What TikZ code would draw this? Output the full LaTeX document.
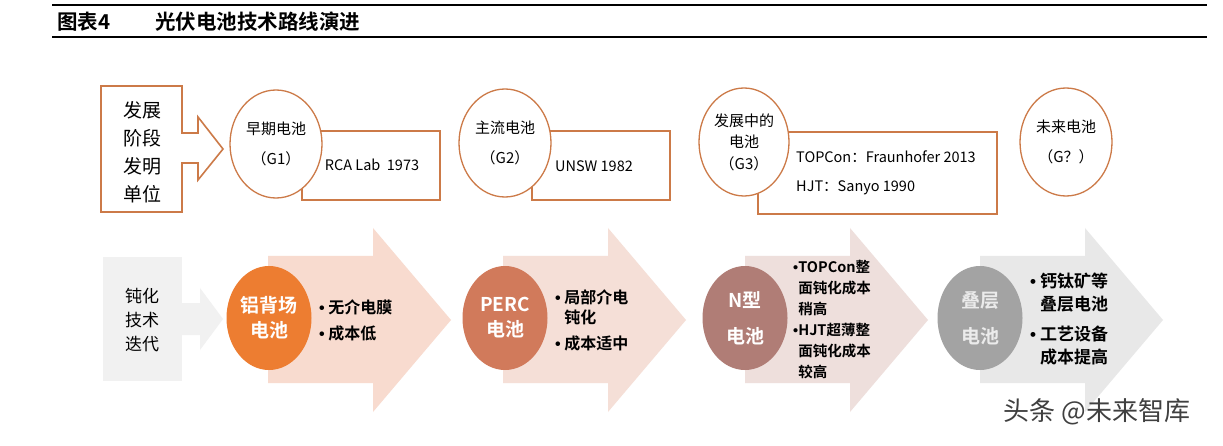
\documentclass[tikz,border=0pt]{standalone}
\usepackage{fontspec}
\setmainfont{Noto Sans CJK SC}[BoldFont={Noto Sans CJK SC Bold}]
\newfontfamily\bulletfont{Liberation Sans}
\usetikzlibrary{shapes.geometric}

\definecolor{lineorange}{RGB}{204,122,72}
\definecolor{passgray}{RGB}{241,241,241}
\definecolor{arrowone}{RGB}{248,219,207}
\definecolor{arrowtwo}{RGB}{245,223,215}
\definecolor{arrowthree}{RGB}{238,223,220}
\definecolor{arrowfour}{RGB}{232,232,232}
\definecolor{alorange}{RGB}{237,125,49}
\definecolor{percred}{RGB}{209,122,91}
\definecolor{nbrown}{RGB}{176,125,118}
\definecolor{tandemgray}{RGB}{163,163,163}

% grosser Pfeil der Technik-Zeile: #1 = linker Rand, #2 = Farbe
\def\routearrow#1#2{%
  \fill[#2] (#1,256) -- (#1+105,256) -- (#1+105,228) -- (#1+183,320)
    -- (#1+105,412) -- (#1+105,383) -- (#1,383) -- cycle;
}
% Aufzaehlungspunkt
\def\bul{{\bulletfont •}}

\begin{document}
\begin{tikzpicture}[x=1pt,y=-1pt,
    titletext/.style={anchor=west,inner sep=0pt,font=\fontsize{20.5}{24}\selectfont\bfseries},
    frame/.style={draw=lineorange,line width=1.6pt},
    gencircle/.style={ellipse,draw=lineorange,line width=1.3pt,fill=white,
      minimum width=92pt,minimum height=108pt,inner sep=0pt,align=center},
    inventor/.style={inner sep=0pt,font=\fontsize{14.5}{29.5}\selectfont},
    cellcircle/.style={ellipse,minimum width=85pt,minimum height=104pt,inner sep=0pt,
      align=center,text=white,font=\fontsize{19}{25}\selectfont\bfseries},
    bullets/.style={anchor=west,inner sep=0pt,align=left,
      font=\fontsize{16}{26}\selectfont\bfseries}]
%
\fill[white] (0,0) rectangle (1223,446);
\useasboundingbox (0,0) rectangle (1223,446);
%
% ============ Kopfzeile ============
\draw[line width=2.5pt] (52,5) -- (1207,5);
\draw[line width=2.5pt] (52,37) -- (1207,37);
\node[titletext] (fig) at (57,22) {图表4};
\node[titletext] (figname) at (155,22) {光伏电池技术路线演进};
%
% ============ Zeile 1: Entwicklungsstufen ============
\draw[frame] (101,86) -- (182,86) -- (182,133) -- (198,133) -- (198,117) -- (223,149)
  -- (198,180) -- (198,163) -- (182,163) -- (182,212) -- (101,212) -- cycle;
\node[align=center,inner sep=0pt,font=\fontsize{19}{28}\selectfont] (stage) at (142,152)
  {发展\\阶段\\发明\\单位};
% Kaesten hinter den Kreisen
\draw[frame,line width=1.3pt] (302,131) rectangle (440,200);
\draw[frame,line width=1.3pt] (532,131) rectangle (670,200);
\draw[frame,line width=1.3pt] (758,132) rectangle (997,214);
% Kreise
\node[gencircle,font=\fontsize{15}{30}\selectfont] (g1) at (276,144) {早期电池\\（G1）};
\node[gencircle,font=\fontsize{15}{30}\selectfont] (g2) at (505,143) {主流电池\\（G2）};
\node[gencircle,minimum width=90pt,font=\fontsize{15}{21.5}\selectfont] (g3) at (744,142)
  {发展中的\\电池\\（G3）};
\node[gencircle,font=\fontsize{15}{30}\selectfont] (g4) at (1066,142) {未来电池\\（G？）};
% Erfinder
\node[inventor] (g1who) at (372,165) {RCA Lab\ \ 1973};
\node[inventor] (g2who) at (594,166) {UNSW 1982};
\node[inventor,anchor=west,align=left] (g3who) at (796,173)
  {TOPCon：Fraunhofer 2013\\HJT：Sanyo 1990};
%
% ============ Zeile 2: Passivierung ============
\fill[passgray] (103,257) rectangle (182,381);
\fill[passgray] (182,303) -- (200,303) -- (200,288) -- (223,319) -- (200,350)
  -- (200,335) -- (182,335) -- cycle;
\node[align=center,inner sep=0pt,font=\fontsize{17}{24}\selectfont] (pass) at (142,320)
  {钝化\\技术\\迭代};
% Pfeile
\routearrow{268}{arrowone}
\routearrow{503}{arrowtwo}
\routearrow{745}{arrowthree}
\routearrow{980}{arrowfour}
% Zellen
\node[cellcircle,fill=alorange] (al) at (269,318) {铝背场\\电池};
\node[cellcircle,fill=percred] (perc) at (505,318) {PERC\\电池};
\node[cellcircle,fill=nbrown,font=\fontsize{19}{36}\selectfont\bfseries] (ntype) at (745,318)
  {N型\\电池};
\node[cellcircle,fill=tandemgray,text=white!92!black,
  font=\fontsize{19}{36}\selectfont\bfseries] (tandem) at (980,318) {叠层\\电池};
% Stichpunkte
\node[bullets] (albul) at (319,320) {\bul\ 无介电膜\\\bul\ 成本低};
\node[bullets,font=\fontsize{16}{20}\selectfont\bfseries] (percbul) at (555,320)
  {\bul\ 局部介电\\\hphantom{\bul\ }钝化\\[6pt]\bul\ 成本适中};
\node[bullets,font=\fontsize{14.5}{21}\selectfont\bfseries] (nbul) at (793,320)
  {\bul TOPCon整\\\hphantom{\bul}面钝化成本\\\hphantom{\bul}稍高\\\bul HJT超薄整\\\hphantom{\bul}面钝化成本\\\hphantom{\bul}较高};
\node[bullets,font=\fontsize{17}{23}\selectfont\bfseries] (tandembul) at (1030,319)
  {\bul\ 钙钛矿等\\\hphantom{\bul\ }叠层电池\\[7pt]\bul\ 工艺设备\\\hphantom{\bul\ }成本提高};
%
% Wasserzeichen
\node[inner sep=0pt,text=black!75,font=\fontsize{26}{30}\selectfont] (mark) at (1097,412)
  {头条 @未来智库};
\end{tikzpicture}
\end{document}
